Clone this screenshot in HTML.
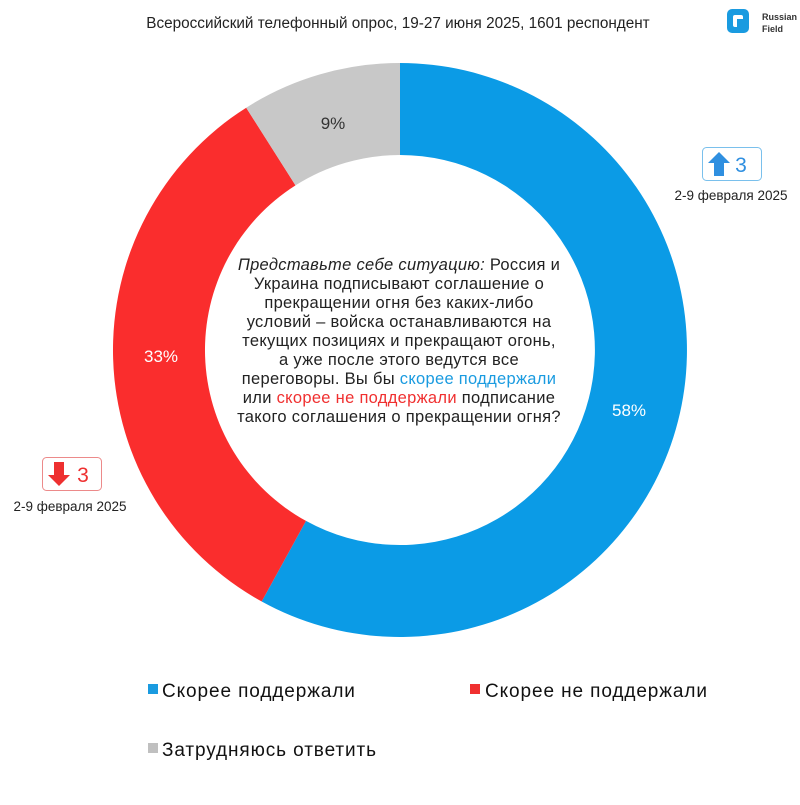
<!DOCTYPE html>
<html><head><meta charset="utf-8"><style>
body{margin:0;background:#fff;}
svg text{font-family:"Liberation Sans","DejaVu Sans",sans-serif;}
</style></head><body>
<svg width="800" height="800" viewBox="0 0 800 800" xmlns="http://www.w3.org/2000/svg">
<rect width="800" height="800" fill="#fff"/>
<text x="398" y="28" font-size="15.3" fill="#222" text-anchor="middle">Всероссийский телефонный опрос, 19-27 июня 2025, 1601 респондент</text>
<!-- logo -->
<rect x="727" y="9" width="22" height="24" rx="5" fill="#1a9be0"/>
<rect x="733" y="15" width="10" height="12" rx="2" fill="#fff"/>
<rect x="737" y="19" width="8" height="12" fill="#1a9be0"/>
<text x="762" y="20" font-size="9" font-weight="bold" fill="#333">Russian</text>
<text x="762" y="32" font-size="9" font-weight="bold" fill="#333">Field</text>
<!-- donut -->
<path d="M400 63 A287 287 0 1 1 261.7 601.5 L306 520.9 A195 195 0 1 0 400 155 Z" fill="#0b9be6"/>
<path d="M261.7 601.5 A287 287 0 0 1 246.2 107.7 L295.5 185.4 A195 195 0 0 0 306 520.9 Z" fill="#fa2d2d"/>
<path d="M246.2 107.7 A287 287 0 0 1 400 63 L400 155 A195 195 0 0 0 295.5 185.4 Z" fill="#c8c8c8"/>
<text x="333" y="129" font-size="17" fill="#333" text-anchor="middle">9%</text>
<text x="161" y="362" font-size="17" fill="#fff" text-anchor="middle">33%</text>
<text x="629" y="416" font-size="17" fill="#fff" text-anchor="middle">58%</text>
<g font-size="16.5" letter-spacing="0.3" fill="#222" text-anchor="middle">
<text x="399" y="270"><tspan font-style="italic">Представьте себе ситуацию:</tspan> Россия и</text>
<text x="399" y="289">Украина подписывают соглашение о</text>
<text x="399" y="308">прекращении огня без каких-либо</text>
<text x="399" y="327">условий – войска останавливаются на</text>
<text x="399" y="346">текущих позициях и прекращают огонь,</text>
<text x="399" y="365">а уже после этого ведутся все</text>
<text x="399" y="384">переговоры. Вы бы <tspan fill="#1a9be0">скорее поддержали</tspan></text>
<text x="399" y="403">или <tspan fill="#f03030">скорее не поддержали</tspan> подписание</text>
<text x="399" y="422">такого соглашения о прекращении огня?</text>
</g>
<!-- up box -->
<rect x="702.5" y="147.5" width="59" height="33" rx="4" fill="#fff" stroke="#7ac0ec" stroke-width="1"/>
<path d="M719 152 L730 163 L724 163 L724 176 L714 176 L714 163 L708 163 Z" fill="#2f8fe0"/>
<text x="741" y="172" font-size="21" fill="#2f8fe0" text-anchor="middle">3</text>
<text x="731" y="200" font-size="13.5" fill="#222" text-anchor="middle">2-9 февраля 2025</text>
<!-- down box -->
<rect x="42.5" y="457.5" width="59" height="33" rx="4" fill="#fff" stroke="#ec8a8a" stroke-width="1"/>
<path d="M59 486 L70 475 L64 475 L64 462 L54 462 L54 475 L48 475 Z" fill="#ee3030"/>
<text x="83" y="482" font-size="21" fill="#ee3030" text-anchor="middle">3</text>
<text x="70" y="511" font-size="13.5" fill="#222" text-anchor="middle">2-9 февраля 2025</text>
<!-- legend -->
<g font-size="19" letter-spacing="0.9" fill="#111">
<rect x="148" y="684" width="10" height="10" fill="#1a9be0"/>
<text x="162" y="697">Скорее поддержали</text>
<rect x="470" y="684" width="10" height="10" fill="#f03030"/>
<text x="485" y="697">Скорее не поддержали</text>
<rect x="148" y="743" width="10" height="10" fill="#c0c0c0"/>
<text x="162" y="756">Затрудняюсь ответить</text>
</g>
</svg>
</body></html>
